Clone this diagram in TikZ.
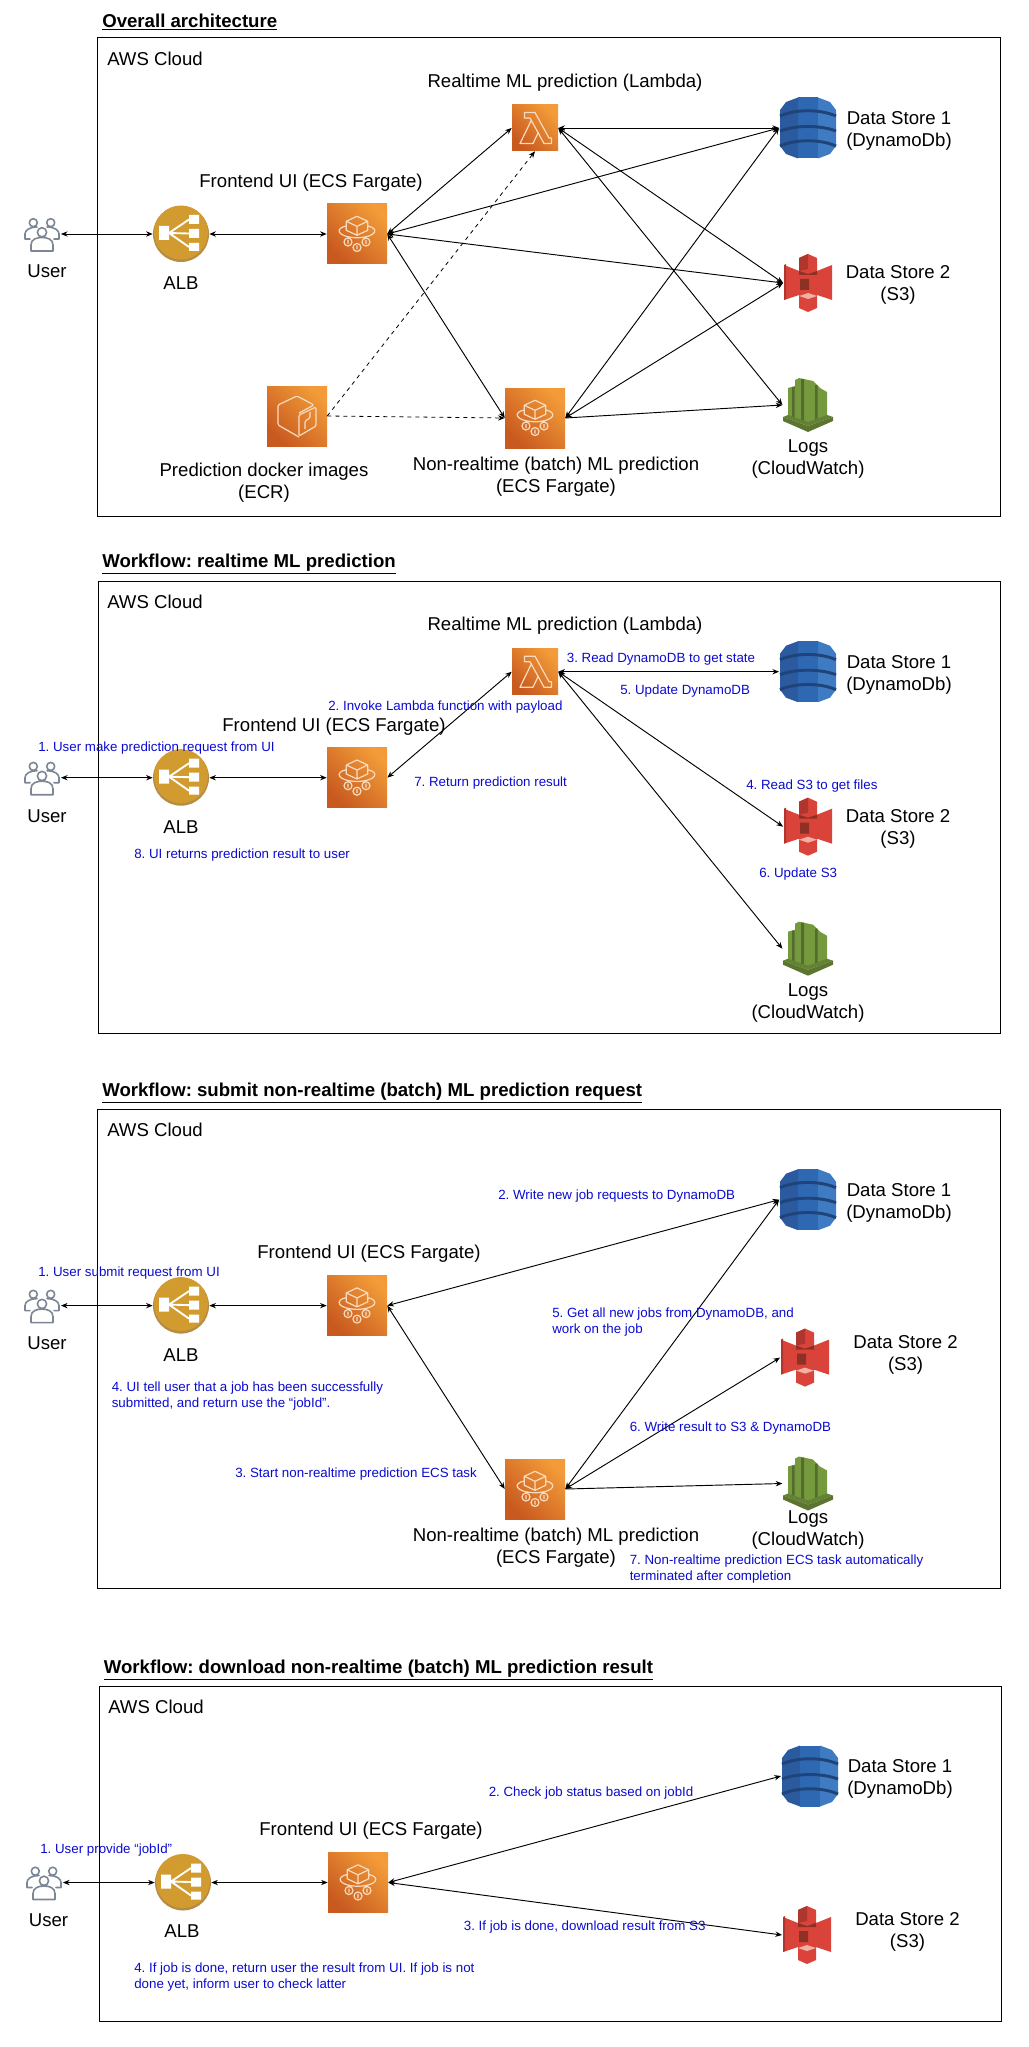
\documentclass[tikz,border=0pt]{standalone}
\usepackage{fontspec}
\setmainfont{Liberation Sans}
\usetikzlibrary{arrows.meta}
\frenchspacing
\definecolor{awsdark}{HTML}{C8591F}
\definecolor{awslight}{HTML}{F29B38}
\definecolor{glyphline}{HTML}{F8DCC0}
\definecolor{albgold}{HTML}{D29B2F}
\definecolor{albrim}{HTML}{B58B45}
\definecolor{dbdark}{HTML}{1F4479}
\definecolor{dbleft}{HTML}{2C5A9F}
\definecolor{dbmid}{HTML}{2E68B2}
\definecolor{dbright}{HTML}{3F7BC3}
\definecolor{sred}{HTML}{DA4339}
\definecolor{sdark}{HTML}{8C3123}
\definecolor{spale}{HTML}{F0B0A4}
\definecolor{lgreen}{HTML}{75993D}
\definecolor{ldark}{HTML}{546C2E}
\definecolor{userline}{HTML}{7C8796}
\definecolor{stepblue}{HTML}{0B0BD0}
\tikzset{
    bidir/.style={{Stealth[length=5pt,width=4pt]}-{Stealth[length=5pt,width=4pt]},line width=0.7pt},
    onedir/.style={-{Stealth[length=5pt,width=4pt]},line width=0.7pt},
    dashdir/.style={-{Stealth[length=5pt,width=4pt]},line width=0.6pt,dashed},
    panel/.style={line width=0.75pt},
    heading/.style={anchor=west,inner sep=0,font=\fontsize{13.97pt}{16pt}\selectfont\bfseries},
    caption/.style={inner sep=0,align=center,font=\fontsize{13.95pt}{16.5pt}\selectfont},
    stepnote/.style={anchor=west,inner sep=0,align=left,text=stepblue,font=\fontsize{10pt}{12pt}\selectfont},
    orangebox/.style={inner sep=0,minimum size=45pt,bottom color=awsdark,top color=awslight,shading angle=-45},
    lambdabox/.style={orangebox,minimum size=34.5pt},
    userspot/.style={inner sep=0,minimum width=28pt,minimum height=27pt},
    albspot/.style={circle,inner sep=0,minimum size=42pt,fill=albrim},
    dbspot/.style={inner sep=0,minimum width=43pt,minimum height=46pt},
    s3spot/.style={inner sep=0,minimum width=37pt,minimum height=44pt},
    logspot/.style={inner sep=0,minimum width=38pt,minimum height=41pt},
    userglyph/.pic={
        \draw[userline,line width=1.2pt,line cap=round,line join=round]
            (-8.7,-11.3) circle[radius=4] (8.7,-11.3) circle[radius=4] (0,-1.7) circle[radius=4.6]
            (-11,17) -- (-11,11) .. controls (-11,5) and (-5,3.5) .. (0,3.5) .. controls (5,3.5) and (11,5) .. (11,11) -- (11,17) -- cycle
            (-5,-7) .. controls (-12,-7) and (-17,-4) .. (-17,0) -- (-17,5) -- (-12,5)
            (5,-7) .. controls (12,-7) and (17,-4) .. (17,0) -- (17,5) -- (12,5);
    },
    albglyph/.pic={
        \fill[albgold] (0,-1.5) circle[radius=27];
        \fill[white] (-22,-8) rectangle (-12,6) (8,-19) rectangle (18,-10) (8,-5) rectangle (18,4) (8,9) rectangle (18,17);
        \draw[white,line width=1.4pt] (-12,-1) -- (8,-14.5) (-12,-1) -- (8,-0.5) (-12,-1) -- (8,13);
    },
    fargateglyph/.pic={
        \draw[glyphline,line width=0.9pt,line join=round]
            (0,-17.7) -- (10.7,-12.7) -- (10.7,-3.7) -- (0,1.3) -- (-10.7,-3.7) -- (-10.7,-12.7) -- cycle
            (-10.7,-12.7) -- (0,-7.7) -- (10.7,-12.7) (0,-7.7) -- (0,1.3)
            (-10.7,-8) .. controls (-22,-6) and (-21,3) .. (0,3.8) .. controls (21,3) and (22,-6) .. (10.7,-8)
            (-9,8) circle[radius=4] (9,8) circle[radius=4] (0,13.5) circle[radius=4]
            (-9,6) -- (-9,10) (9,6) -- (9,10) (0,11.5) -- (0,15.5);
    },
    lambdaglyph/.pic={
        \draw[glyphline,line width=0.9pt,line join=round]
            (-10.5,-15.5) -- (0,-15.5) -- (14,10) -- (16.5,10) -- (16.5,15.5) -- (9,15.5) -- (-5,-10) -- (-10.5,-10) -- cycle
            (-4,-7) -- (-15,15.5) -- (-2,15.5) -- (3.5,4);
    },
    ecrglyph/.pic={
        \draw[glyphline,line width=0.9pt,line join=round,rounded corners=1pt]
            (2,21) -- (-19,9) -- (-19,-11) -- (0,-20) -- (17,-11) -- (2,-3)
            (2,-1) -- (19,-9) -- (19,10) -- (2,20) -- cycle
            (8,13) -- (8,5) -- (13,2) -- (13,-4);
    },
    dbglyph/.pic={
        \fill[dbleft] (-10,-30.5) -- (-22,-26) -- (-28,-18) -- (-28,18) -- (-22,26) -- (-10,30.5) -- cycle;
        \fill[dbmid] (-10,-30.5) rectangle (10,30.5);
        \fill[dbright] (10,-30.5) -- (22,-26) -- (28,-18) -- (28,18) -- (22,26) -- (10,30.5) -- cycle;
        \draw[dbdark,line width=2.2pt]
            (-28,-12) .. controls (-12,-19) and (12,-19) .. (28,-12)
            (-28,3) .. controls (-12,-3) and (12,-3) .. (28,3)
            (-28,18) .. controls (-12,11) and (12,11) .. (28,18);
    },
    s3glyph/.pic={
        \fill[sred] (0,-29) -- (9,-25) -- (9,-12) -- (24,-18) -- (24,17) -- (9,12) -- (9,25) -- (0,29) -- (-9,25)
            -- (-9,12) -- (-24,17) -- (-24,-18) -- (-9,-12) -- (-9,-25) -- cycle;
        \fill[sred!80!black] (-24,-18) -- (-22,-19) -- (-22,16) -- (-24,17) -- cycle
            (0,-29) -- (-9,-25) -- (-9,-12) -- (0,-14) -- cycle;
        \fill[sdark] (-9,-12) -- (0,-9) -- (9,-12) -- (9,-8) -- (-9,-8) -- cycle
            (-8,-4) rectangle (1,7);
        \fill[spale] (-9,13) -- (0,10) -- (9,13) -- (0,16) -- cycle;
    },
    logglyph/.pic={
        \fill[lgreen] (-20,-17) -- (-13,-19) -- (-13,-25) -- (-9,-27) -- (5,-24) -- (12,-17) -- (19,-13) -- (19,12) -- (0,19) -- (-20,12) -- cycle;
        \fill[ldark] (-16,-18) rectangle (-13.5,14) (-7,-26) -- (-4,-26) -- (-4,16) -- (-7,16) -- cycle (7,-20) rectangle (9.5,15);
        \fill[lgreen!85!black] (-25,12) -- (-20,10) -- (0,17) -- (19,10) -- (25,12) -- (0,21) -- cycle;
        \fill[ldark!80!lgreen] (-25,12) -- (0,21) -- (25,12) -- (25,16) -- (0,27) -- (-25,16) -- cycle;
    },
}
\begin{document}
\begin{tikzpicture}[x=0.75pt,y=-0.75pt]
    \useasboundingbox (0,0) rectangle (1028,2047);

    % overall
    \node[heading] (titleA) at (102,22) {\underline{Overall architecture}};
    \draw[panel] (97,38) rectangle (1000.6,516.6);
    \node[caption,anchor=west] (cloudA) at (107,58.5) {AWS Cloud};
    \node[userspot] (userA) at (42,234) {};
    \pic at (userA) {userglyph};
    \node[albspot] (albA) at (181,234) {};
    \pic at (albA) {albglyph};
    \node[orangebox] (uiA) at (357,234) {};
    \pic at (uiA) {fargateglyph};
    \node[lambdabox] (lambdaA) at (535,128) {};
    \pic at (lambdaA) {lambdaglyph};
    \node[orangebox] (ecrA) at (297,416) {};
    \pic at (ecrA) {ecrglyph};
    \node[orangebox] (batchA) at (535,418) {};
    \pic at (batchA) {fargateglyph};
    \node[dbspot] (dbA) at (808,128) {};
    \pic at (dbA) {dbglyph};
    \node[s3spot] (sA) at (808,283) {};
    \pic at (sA) {s3glyph};
    \node[logspot] (logsA) at (808,405) {};
    \pic at (logsA) {logglyph};
    \node[caption] (userlabA) at (47,271) {User};
    \node[caption] (alblabA) at (181,283) {ALB};
    \node[caption] (uilabA) at (311,183) {Frontend UI (ECS Fargate)};
    \node[caption] (lambdalabA) at (565,83) {Realtime ML prediction (Lambda)};
    \node[caption] (ecrlabA) at (264,483) {Prediction docker images\\(ECR)};
    \node[caption] (batchlabA) at (556,477) {Non-realtime (batch) ML prediction\\(ECS Fargate)};
    \node[caption] (dblabA) at (899,131) {Data Store 1\\(DynamoDb)};
    \node[caption] (slabA) at (898,285) {Data Store 2\\(S3)};
    \node[caption] (logslabA) at (808,459) {Logs\\(CloudWatch)};
    \draw[bidir] (userA) -- (albA);
    \draw[bidir] (albA) -- (uiA);
    \draw[bidir] (uiA.east) -- (lambdaA.west);
    \draw[bidir] (uiA.east) -- (dbA.west);
    \draw[bidir] (uiA.east) -- (sA.west);
    \draw[bidir] (uiA.east) -- (batchA.west);
    \draw[dashdir] (ecrA.east) -- (lambdaA.south);
    \draw[dashdir] (ecrA.east) -- (batchA.west);
    \draw[bidir] (lambdaA.east) -- (dbA.west);
    \draw[bidir] (lambdaA.east) -- (sA.west);
    \draw[bidir] (lambdaA.east) -- (logsA.west);
    \draw[bidir] (batchA.east) -- (dbA.west);
    \draw[bidir] (batchA.east) -- (sA.west);
    \draw[onedir] (batchA.east) -- (logsA.west);

    % realtime
    \node[heading] (titleB) at (102,564) {\underline{Workflow: realtime ML prediction}};
    \draw[panel] (98.4,581.4) rectangle (1000.6,1033.7);
    \node[caption,anchor=west] (cloudB) at (107,602.3) {AWS Cloud};
    \node[userspot] (userB) at (42,777.7) {};
    \pic at (userB) {userglyph};
    \node[albspot] (albB) at (181,777.7) {};
    \pic at (albB) {albglyph};
    \node[orangebox] (uiB) at (357,777.7) {};
    \pic at (uiB) {fargateglyph};
    \node[lambdabox] (lambdaB) at (535,671.7) {};
    \pic at (lambdaB) {lambdaglyph};
    \node[dbspot] (dbB) at (808,671.7) {};
    \pic at (dbB) {dbglyph};
    \node[s3spot] (sB) at (808,826.7) {};
    \pic at (sB) {s3glyph};
    \node[logspot] (logsB) at (808,948.7) {};
    \pic at (logsB) {logglyph};
    \node[caption] (userlabB) at (47,815.7) {User};
    \node[caption] (alblabB) at (181,826.7) {ALB};
    \node[caption] (uilabB) at (334,726.7) {Frontend UI (ECS Fargate)};
    \node[caption] (lambdalabB) at (565,626) {Realtime ML prediction (Lambda)};
    \node[caption] (dblabB) at (899,674.7) {Data Store 1\\(DynamoDb)};
    \node[caption] (slabB) at (898,828.7) {Data Store 2\\(S3)};
    \node[caption] (logslabB) at (808,1002.7) {Logs\\(CloudWatch)};
    \draw[bidir] (userB) -- (albB);
    \draw[bidir] (albB) -- (uiB);
    \draw[bidir] (uiB.east) -- (lambdaB.west);
    \draw[bidir] (lambdaB.east) -- (dbB.west);
    \draw[bidir] (lambdaB.east) -- (sB.west);
    \draw[bidir] (lambdaB.east) -- (logsB.west);
    \node[stepnote] (oneB) at (38,748) {1. User make prediction request from UI};
    \node[stepnote] (twoB) at (328,707) {2. Invoke Lambda function with payload};
    \node[stepnote] (threeB) at (566.6,659.5) {3. Read DynamoDB to get state};
    \node[stepnote] (fourB) at (746,785.6) {4. Read S3 to get files};
    \node[stepnote] (fiveB) at (620,691) {5. Update DynamoDB};
    \node[stepnote] (sixB) at (759,874) {6. Update S3};
    \node[stepnote] (sevenB) at (414,783) {7. Return prediction result};
    \node[stepnote] (eightB) at (134,855.5) {8. UI returns prediction result to user};

    % submit batch
    \node[heading] (titleC) at (102,1093.5) {\underline{Workflow: submit non-realtime (batch) ML prediction request}};
    \draw[panel] (97,1109.4) rectangle (1000.6,1588.4);
    \node[caption,anchor=west] (cloudC) at (107,1130.3) {AWS Cloud};
    \node[userspot] (userC) at (42,1305.6) {};
    \pic at (userC) {userglyph};
    \node[albspot] (albC) at (181,1305.6) {};
    \pic at (albC) {albglyph};
    \node[orangebox] (uiC) at (357,1305.6) {};
    \pic at (uiC) {fargateglyph};
    \node[orangebox] (batchC) at (535,1489) {};
    \pic at (batchC) {fargateglyph};
    \node[dbspot] (dbC) at (808,1199.7) {};
    \pic at (dbC) {dbglyph};
    \node[s3spot] (sC) at (805,1357.6) {};
    \pic at (sC) {s3glyph};
    \node[logspot] (logsC) at (808,1483.5) {};
    \pic at (logsC) {logglyph};
    \node[caption] (userlabC) at (47,1343) {User};
    \node[caption] (alblabC) at (181,1355) {ALB};
    \node[caption] (uilabC) at (369,1254) {Frontend UI (ECS Fargate)};
    \node[caption] (batchlabC) at (556,1548) {Non-realtime (batch) ML prediction\\(ECS Fargate)};
    \node[caption] (dblabC) at (899,1203) {Data Store 1\\(DynamoDb)};
    \node[caption] (slabC) at (905.6,1355) {Data Store 2\\(S3)};
    \node[caption] (logslabC) at (808,1530) {Logs\\(CloudWatch)};
    \draw[bidir] (userC) -- (albC);
    \draw[bidir] (albC) -- (uiC);
    \draw[bidir] (uiC.east) -- (dbC.west);
    \draw[bidir] (uiC.east) -- (batchC.west);
    \draw[bidir] (batchC.east) -- (dbC.west);
    \draw[bidir] (batchC.east) -- (sC.west);
    \draw[onedir] (batchC.east) -- (logsC.west);
    \node[stepnote] (oneC) at (38,1273) {1. User submit request from UI};
    \node[stepnote] (twoC) at (498,1196) {2. Write new job requests to DynamoDB};
    \node[stepnote] (threeC) at (235,1474) {3. Start non-realtime prediction ECS task};
    \node[stepnote] (fourC) at (111.5,1396) {4. UI tell user that a job has been successfully\\submitted, and return use the “jobId”.};
    \node[stepnote] (fiveC) at (552,1322) {5. Get all new jobs from DynamoDB, and\\work on the job};
    \node[stepnote] (sixC) at (629.5,1428) {6. Write result to S3 \& DynamoDB};
    \node[stepnote] (sevenC) at (629.5,1569) {7. Non-realtime prediction ECS task automatically\\terminated after completion};

    % download batch
    \node[heading] (titleD) at (103.6,1670) {\underline{Workflow: download non-realtime (batch) ML prediction result}};
    \draw[panel] (99.7,1686.3) rectangle (1001,2021.3);
    \node[caption,anchor=west] (cloudD) at (108,1707) {AWS Cloud};
    \node[userspot] (userD) at (44,1882.5) {};
    \pic at (userD) {userglyph};
    \node[albspot] (albD) at (183,1882.5) {};
    \pic at (albD) {albglyph};
    \node[orangebox] (uiD) at (358,1882.5) {};
    \pic at (uiD) {fargateglyph};
    \node[dbspot] (dbD) at (810,1776) {};
    \pic at (dbD) {dbglyph};
    \node[s3spot] (sD) at (807,1935) {};
    \pic at (sD) {s3glyph};
    \node[caption] (userlabD) at (48.5,1920) {User};
    \node[caption] (alblabD) at (182,1931) {ALB};
    \node[caption] (uilabD) at (371,1831) {Frontend UI (ECS Fargate)};
    \node[caption] (dblabD) at (900,1779) {Data Store 1\\(DynamoDb)};
    \node[caption] (slabD) at (907.5,1932) {Data Store 2\\(S3)};
    \draw[bidir] (userD) -- (albD);
    \draw[bidir] (albD) -- (uiD);
    \draw[bidir] (uiD.east) -- (dbD.west);
    \draw[bidir] (uiD.east) -- (sD.west);
    \node[stepnote] (oneD) at (40,1850) {1. User provide “jobId”};
    \node[stepnote] (twoD) at (488.5,1793) {2. Check job status based on jobId};
    \node[stepnote] (threeD) at (463.6,1926.7) {3. If job is done, download result from S3};
    \node[stepnote] (fourD) at (134,1977) {4. If job is done, return user the result from UI. If job is not\\done yet, inform user to check latter};
\end{tikzpicture}
\end{document}
